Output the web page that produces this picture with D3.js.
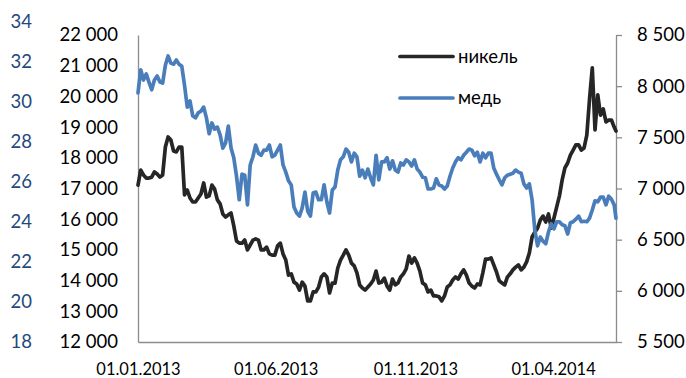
<!DOCTYPE html>
<html><head><meta charset="utf-8">
<script src="https://cdn.jsdelivr.net/npm/d3@7"></script>
<style>
html,body{margin:0;padding:0;background:#fff;}
svg{display:block;font-family:Lato,"Noto Sans",sans-serif;}
</style></head><body>
<svg id="chart" width="686" height="378"></svg>
<script>
const dates = [
"2013-01-01","2013-01-04","2013-01-07","2013-01-10","2013-01-13","2013-01-16","2013-01-19","2013-01-22","2013-01-25","2013-01-28","2013-01-31",
"2013-02-03","2013-02-06","2013-02-09","2013-02-12","2013-02-15","2013-02-18","2013-02-21","2013-02-24","2013-02-27",
"2013-03-02","2013-03-05","2013-03-08","2013-03-11","2013-03-14","2013-03-17","2013-03-20","2013-03-23","2013-03-26","2013-03-29",
"2013-04-01","2013-04-04","2013-04-07","2013-04-10","2013-04-13","2013-04-16","2013-04-19","2013-04-22","2013-04-25","2013-04-28",
"2013-05-01","2013-05-04","2013-05-07","2013-05-10","2013-05-13","2013-05-16","2013-05-19","2013-05-22","2013-05-25","2013-05-28","2013-05-31",
"2013-06-03","2013-06-06","2013-06-09","2013-06-12","2013-06-15","2013-06-18","2013-06-21","2013-06-24","2013-06-27","2013-06-30",
"2013-07-03","2013-07-06","2013-07-09","2013-07-12","2013-07-15","2013-07-18","2013-07-21","2013-07-24","2013-07-27","2013-07-30",
"2013-08-02","2013-08-05","2013-08-08","2013-08-11","2013-08-14","2013-08-17","2013-08-20","2013-08-23","2013-08-26","2013-08-29",
"2013-09-01","2013-09-04","2013-09-07","2013-09-10","2013-09-13","2013-09-16","2013-09-19","2013-09-22","2013-09-25","2013-09-28",
"2013-10-01","2013-10-04","2013-10-07","2013-10-10","2013-10-13","2013-10-16","2013-10-19","2013-10-22","2013-10-25","2013-10-28","2013-10-31",
"2013-11-03","2013-11-06","2013-11-09","2013-11-12","2013-11-15","2013-11-18","2013-11-21","2013-11-24","2013-11-27","2013-11-30",
"2013-12-03","2013-12-06","2013-12-09","2013-12-12","2013-12-15","2013-12-18","2013-12-21","2013-12-24","2013-12-27","2013-12-30",
"2014-01-02","2014-01-05","2014-01-08","2014-01-11","2014-01-14","2014-01-17","2014-01-20","2014-01-23","2014-01-26","2014-01-29",
"2014-02-01","2014-02-04","2014-02-07","2014-02-10","2014-02-13","2014-02-16","2014-02-19","2014-02-22","2014-02-25","2014-02-28",
"2014-03-03","2014-03-06","2014-03-09","2014-03-12","2014-03-15","2014-03-18","2014-03-21","2014-03-24","2014-03-27","2014-03-30",
"2014-04-02","2014-04-05","2014-04-08","2014-04-11","2014-04-14","2014-04-17","2014-04-20","2014-04-23","2014-04-26","2014-04-29",
"2014-05-02","2014-05-05","2014-05-08","2014-05-11","2014-05-14","2014-05-17","2014-05-20","2014-05-23","2014-05-26","2014-05-29",
"2014-06-01","2014-06-04","2014-06-07","2014-06-09"
];

const nickel = [
17110,17600,17440,17340,17340,17370,17540,17470,17370,17440,18350,
18680,18580,18220,18190,18350,18350,16790,16950,16690,
16560,16560,16690,16820,17180,16720,16760,17110,16980,16630,
16500,16170,16070,16140,16200,15780,15290,15220,15220,15320,
15000,15160,15320,15360,15320,15000,15000,15090,14870,14830,14830,
15130,15220,14870,14670,14180,14220,13950,13890,13690,13950,
13820,13340,13340,13630,13630,13790,14120,14220,14120,13600,
13920,13920,14410,14670,14830,15000,14830,14570,14480,14250,
13860,13760,13690,13790,13890,14020,14310,13920,13950,14080,
13820,13690,14050,13860,13920,14120,14220,14380,14800,14570,14740,
14570,14310,13920,13860,13630,13690,13500,13500,13470,13340,
13500,13790,13860,14020,14120,14050,14220,14350,14180,13920,
13820,13760,13890,13860,14250,14700,14700,14740,14510,14280,
13990,13920,13860,14120,14220,14350,14440,14510,14350,14440,
14610,14900,15420,15580,15710,15970,16100,15910,16170,15710,
16040,16400,16760,17280,17670,17830,18090,18250,18420,18420,
18250,18320,18740,19920,20930,18910,20050,19390,19590,19170,
19230,19230,19000,18870
];

const copper = [
7935,8160,8060,8120,8040,7965,8060,8100,8040,8030,8205,
8295,8225,8215,8255,8215,8195,8010,7795,7855,
7710,7690,7740,7755,7795,7690,7535,7640,7580,7600,
7525,7395,7445,7610,7395,7300,7120,6890,7140,7130,
6840,7230,7310,7425,7345,7325,7375,7375,7425,7310,7325,
7375,7425,7230,7160,7075,7035,6820,6760,6730,6810,
6965,6780,6730,6955,6965,6890,6890,7035,6870,6760,
6985,7015,7180,7280,7310,7385,7355,7260,7345,7310,
7120,7180,7105,7190,7105,7035,7325,7085,7260,7260,
7300,7190,7270,7180,7160,7250,7230,7280,7260,7220,7280,
7190,7160,7110,7105,6995,6995,7005,7095,7035,7025,
6995,7025,7120,7200,7260,7300,7280,7325,7355,7385,
7375,7320,7355,7260,7345,7300,7345,7345,7200,7140,
7085,7035,7105,7130,7140,7150,7180,7160,7150,7045,
7005,7045,6890,6595,6440,6525,6485,6460,6575,6655,
6605,6675,6675,6645,6635,6555,6665,6675,6700,6730,
6675,6680,6675,6710,6790,6880,6870,6915,6915,6840,
6925,6895,6840,6710
];

const nickelTicks = [12000,13000,14000,15000,16000,17000,18000,19000,20000,21000,22000];
const copperTicks = [5500,6000,6500,7000,7500,8000,8500];
const extraTicks = [18,20,22,24,26,28,30,32,34];
const dateTicks = ["2013-01-01","2013-06-01","2013-11-01","2014-04-01"];
const xDomain = ["2013-01-01","2014-06-09"];
const seriesNames = ["никель","медь"];
const seriesColors = ["#262626","#4a7ebb"];

const parse = d3.timeParse("%Y-%m-%d");
const fmtDate = d3.timeFormat("%d.%m.%Y");
const loc = d3.formatLocale({decimal:",", thousands:"\u00a0", grouping:[3], currency:["",""]});
const fmtNum = loc.format(",");

const L = 138, R = 616, T = 35, B = 342;
const svg = d3.select("#chart");

const x = d3.scaleTime().domain(xDomain.map(parse)).range([L, R]);
const yN = d3.scaleLinear().domain([12000, 22000]).range([B, T]);
const yC = d3.scaleLinear().domain([5500, 8500]).range([B, T]);
const yE = d3.scaleLinear().domain([18, 34]).range([341.7, 21.7]);

const axisColor = "#8c8c8c";
const fs = 18.5;

// left axis (nickel)
const gL = svg.append("g").attr("transform", `translate(${L},0)`)
  .call(d3.axisLeft(yN).tickValues(nickelTicks).tickSize(0).tickPadding(20).tickFormat(fmtNum));
gL.select(".domain").attr("stroke", axisColor).attr("stroke-width", 1.3);
gL.selectAll("text").attr("font-size", fs).attr("fill", "#000").attr("font-family", "Lato, 'Noto Sans', sans-serif");

// extra far-left axis (labels only)
const gE = svg.append("g").attr("transform", `translate(32,0)`)
  .call(d3.axisLeft(yE).tickValues(extraTicks).tickSize(0).tickPadding(0).tickFormat(d3.format("d")));
gE.select(".domain").remove();
gE.selectAll("text").attr("font-size", fs).attr("fill", "#1f497d").attr("font-family", "Lato, 'Noto Sans', sans-serif");

// right axis (copper)
const gR = svg.append("g").attr("transform", `translate(${R},0)`)
  .call(d3.axisRight(yC).tickValues(copperTicks).tickSizeOuter(0).tickSizeInner(6).tickPadding(15).tickFormat(fmtNum));
gR.select(".domain").attr("stroke", axisColor).attr("stroke-width", 1.3);
gR.selectAll("line").attr("stroke", axisColor).attr("stroke-width", 1.3);
gR.selectAll("text").attr("font-size", fs).attr("fill", "#000").attr("font-family", "Lato, 'Noto Sans', sans-serif");

// bottom axis
const gB = svg.append("g").attr("transform", `translate(0,${B})`)
  .call(d3.axisBottom(x).tickValues(dateTicks.map(parse)).tickSize(0).tickPadding(21).tickFormat(fmtDate));
gB.select(".domain").attr("stroke", axisColor).attr("stroke-width", 1.3);
gB.selectAll("text").attr("font-size", 16.5).attr("fill", "#000").attr("font-family", "Lato, 'Noto Sans', sans-serif");

// lines
const pts = dates.map(parse);
const lineN = d3.line().x((d, i) => x(pts[i])).y(d => yN(d));
const lineC = d3.line().x((d, i) => x(pts[i])).y(d => yC(d));
svg.append("path").datum(nickel).attr("d", lineN).attr("fill", "none")
  .attr("stroke", seriesColors[0]).attr("stroke-width", 3.7).attr("stroke-linejoin", "round").attr("stroke-linecap", "round");
svg.append("path").datum(copper).attr("d", lineC).attr("fill", "none")
  .attr("stroke", seriesColors[1]).attr("stroke-width", 3.7).attr("stroke-linejoin", "round").attr("stroke-linecap", "round");

// legend
const lg = svg.append("g");
seriesNames.forEach((name, i) => {
  const cy = 56.5 + i * 41.5;
  lg.append("line").attr("x1", 400).attr("x2", 453).attr("y1", cy).attr("y2", cy)
    .attr("stroke", seriesColors[i]).attr("stroke-width", 3.7).attr("stroke-linecap", "round");
  lg.append("text").attr("x", 458).attr("y", cy).attr("dy", "0.35em")
    .attr("font-size", fs).attr("fill", "#000").text(name);
});
</script>
</body></html>
